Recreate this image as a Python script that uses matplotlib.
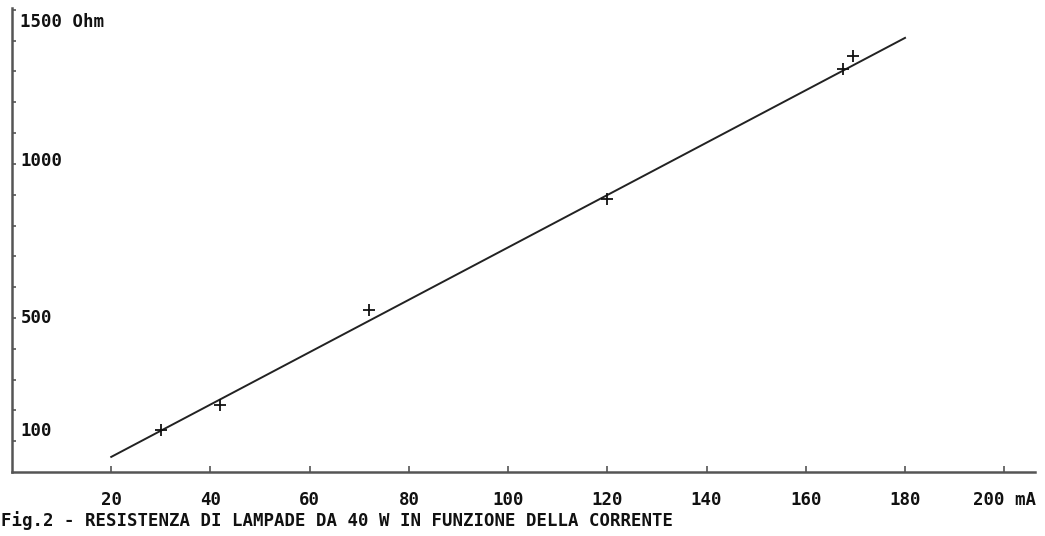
import matplotlib.pyplot as plt
import numpy as np

# measured points (current mA, resistance Ohm)
current_ma = [30, 42, 72, 120, 167.5, 169.5]
resistance_ohm = [136, 217, 526, 886, 1308, 1351]

# fitted straight line drawn on the chart
fit_current = [20, 180]
fit_resistance = [49, 1409]

xtick_values = [20, 40, 60, 80, 100, 120, 140, 160, 180, 200]
xtick_labels = ["20", "40", "60", "80", "100", "120", "140", "160", "180", "200 mA"]
ytick_values = list(range(100, 1600, 100))
ylabel_values = [1500, 1000, 500, 100]
ylabel_texts = ["1500 Ohm", "1000", "500", "100"]
ylabel_shift_px = [-12, 3, 0, 10]  # vertical offset of each label from its tick

caption = "Fig.2 - RESISTENZA DI LAMPADE DA 40 W IN FUNZIONE DELLA CORRENTE"

W, H = 1045, 536
fig = plt.figure(figsize=(W / 100, H / 100), dpi=100)
ax = fig.add_axes([12 / W, (H - 472) / H, 1023 / W, 464 / H])
ax.set_xlim(0, 206.2)
ax.set_ylim(0, 1506)

font = dict(family="DejaVu Sans Mono", weight="bold", size=12.5, color="#111111")

ax.plot(fit_current, fit_resistance, color="#222222", lw=1.4)
ax.plot(current_ma, resistance_ohm, ls="none", marker="+", ms=9, mew=1.3, color="#111111")

for s in ["top", "right"]:
    ax.spines[s].set_visible(False)
for s in ["left", "bottom"]:
    ax.spines[s].set_color("#555555")
    ax.spines[s].set_linewidth(1.8)

ax.set_xticks(xtick_values)
ax.set_xticklabels(xtick_labels, fontdict=font)
ax.tick_params(axis="x", direction="in", length=4, width=1.2, color="#555555", pad=14)
ax.set_yticks(ytick_values)
ax.set_yticklabels([])
ax.tick_params(axis="y", direction="in", length=3, width=1.2, color="#555555")

for v, t, dy in zip(ylabel_values, ylabel_texts, ylabel_shift_px):
    ax.annotate(t, xy=(0, v), xycoords=("axes fraction", "data"),
                xytext=(6, dy * 0.72), textcoords="offset points",
                ha="left", va="center", **font)

fig.text(1 / W, 1 - 521 / H, caption, ha="left", va="center", **font)

fig.savefig("out.png", dpi=100, facecolor="white")
